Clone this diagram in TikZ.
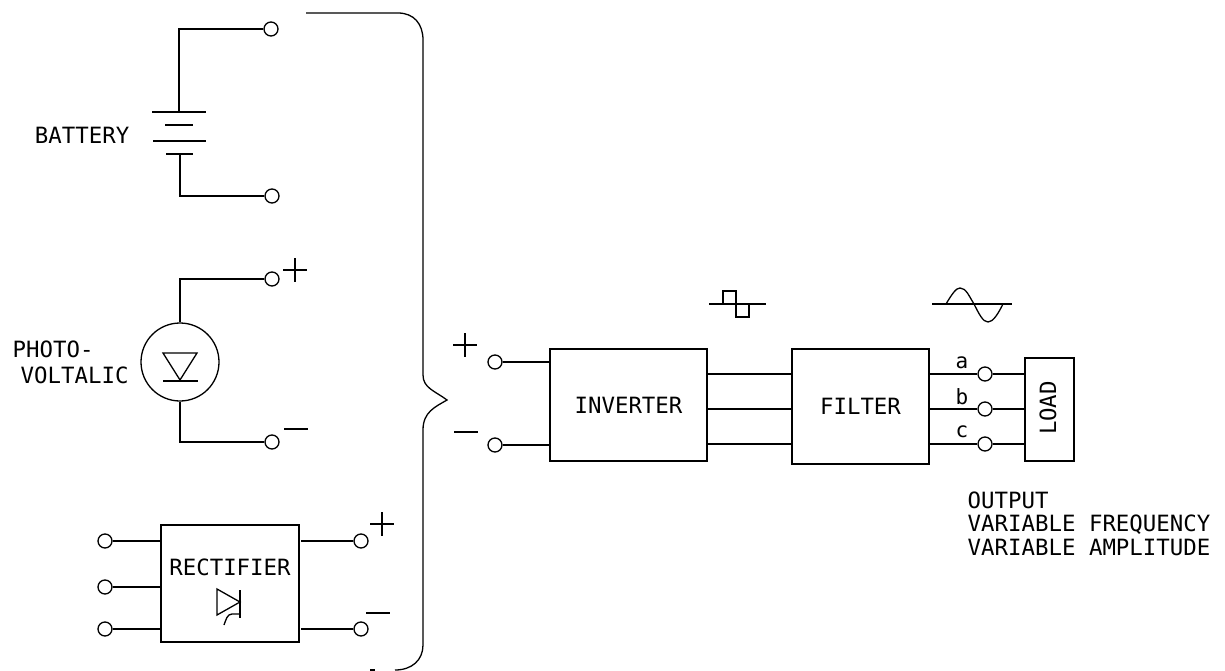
\documentclass[tikz,border=0pt]{standalone}
\usepackage{fontspec}
\setmainfont{DejaVu Sans Mono}
\usetikzlibrary{positioning}
\tikzset{
    wire/.style={line width=1.3pt},
    blockbox/.style={draw, line width=1.4pt, inner sep=0pt, font=\fontsize{22.4}{23.5}\selectfont},
    terminal/.style={circle, draw, line width=1.3pt, fill=white, minimum size=14pt, inner sep=0pt},
    caption/.style={inner sep=0pt, font=\fontsize{22.4}{23.5}\selectfont},
    letter/.style={inner sep=0pt, font=\fontsize{21}{23}\selectfont}
}

\begin{document}
\begin{tikzpicture}[x=1pt, y=-1pt, wire]
    \useasboundingbox (0,0) rectangle (1225,671);

    \node[terminal] (battop) at (271,29) {};
    \node[terminal] (batbot) [below of=battop, node distance=167pt, xshift=1pt] {};
    \coordinate (platetop) at (179,112);
    \coordinate (platebot) at (180,154);
    \node[caption, anchor=east] (battery) at (130,135) {BATTERY};
    \draw (152,112) -- (206,112)
          (165,125) -- (193,125)
          (153,141) -- (206,141)
          (166,154) -- (193,154);
    \path (platetop) edge[to path={|- (\tikztotarget)}] (battop)
          (platebot) edge[to path={|- (\tikztotarget)}] (batbot);

    \node[terminal] (pvtop) at (272,279) {};
    \node[terminal] (pvbot) [below of=pvtop, node distance=163pt] {};
    \node[circle, draw, minimum size=78pt, inner sep=0pt] (pv) at (180,362) {};
    \node[caption, anchor=west] (photo) at (12,349) {PHOTO-};
    \node[caption, anchor=west] (voltalic) at (20,375) {VOLTALIC};
    \draw (163,353) -- (197,353) -- (180,380) -- cycle;
    \draw (163,381) -- (198,381);
    \path (pv.north) edge[to path={|- (\tikztotarget)}] (pvtop)
          (pv.south) edge[to path={|- (\tikztotarget)}] (pvbot);

    \node[blockbox, minimum width=138pt, minimum height=117pt] (rectifier) at (230,583.5) {};
    \node[caption] (rectlabel) at (230,567) {RECTIFIER};
    \node[terminal] (rin1) at (105,541) {};
    \node[terminal] (rin2) [below of=rin1, node distance=46pt] {};
    \node[terminal] (rin3) [below of=rin2, node distance=42pt] {};
    \node[terminal] (rout1) at (361,541) {};
    \node[terminal] (rout2) [below of=rout1, node distance=88pt] {};
    \draw (217,589) -- (240,602) -- (217,615) -- cycle;
    \draw (240,590) -- (240,618);
    \draw (240,614) -- (232,614) .. controls (227,614) and (226,620) .. (224,625);
    \path (rin1) edge (rin1 -| rectifier.west)
          (rin2) edge (rin2 -| rectifier.west)
          (rin3) edge (rin3 -| rectifier.west)
          (rout1) edge (rout1 -| 301,0)
          (rout2) edge (rout2 -| 301,0);

    \draw (306,13) -- (398,13) .. controls (414,13) and (423,24) .. (423,40)
          -- (423,375) .. controls (423,388) and (435,391) .. (447,400)
          .. controls (435,407) and (423,412) .. (423,430)
          -- (423,645) .. controls (423,660) and (412,670) .. (395,670);
    \draw (370,670) -- (375,670);

    \node[blockbox, minimum width=157pt, minimum height=112pt] (inverter) at (628.5,405) {INVERTER};
    \node[blockbox, minimum width=137pt, minimum height=115pt] (filter) at (860.5,406.5) {FILTER};
    \node[blockbox, minimum width=49pt, minimum height=103pt] (load) at (1049.5,409.5) {};
    \node[caption, rotate=90] (loadlabel) at (1048,408) {LOAD};
    \node[terminal] (inplus) at (495,362) {};
    \node[terminal] (inminus) at (495,445) {};
    \node[terminal] (outa) at (985,374) {};
    \node[terminal] (outb) at (985,409) {};
    \node[terminal] (outc) at (985,444) {};
    \node[letter] (la) at (962,363) {a};
    \node[letter] (lb) at (962,397) {b};
    \node[letter] (lc) at (962,432) {c};
    \path (inplus) edge (inplus -| inverter.west)
          (inminus) edge (inminus -| inverter.west)
          (inverter.east |- outa) edge (filter.west |- outa)
          (inverter.east |- outb) edge (filter.west |- outb)
          (inverter.east |- outc) edge (filter.west |- outc)
          (filter.east |- outa) edge (outa)
          (filter.east |- outb) edge (outb)
          (filter.east |- outc) edge (outc)
          (outa) edge (outa -| load.west)
          (outb) edge (outb -| load.west)
          (outc) edge (outc -| load.west);

    \node[caption, anchor=north west, align=left] (output) at (967,491) {OUTPUT\\VARIABLE FREQUENCY\\VARIABLE AMPLITUDE};

    \foreach \x/\y in {295/270, 382/524, 465/345} {
        \draw (\x-12,\y) -- (\x+12,\y) (\x,\y-12) -- (\x,\y+12);
    }
    \foreach \x/\y in {296/429, 378/613, 466/432} {
        \draw (\x-12,\y) -- (\x+12,\y);
    }

    \draw (709,304) -- (766,304);
    \draw (723,304) -- (723,291) -- (736,291) -- (736,317) -- (749,317) -- (749,304);
    \draw (932,304) -- (1012,304);
    \draw (946,304) .. controls (952,294) and (956,288) .. (960,288)
          .. controls (966,288) and (969,296) .. (974,304)
          .. controls (979,314) and (983,322) .. (988,322)
          .. controls (993,322) and (998,314) .. (1003,304);
\end{tikzpicture}
\end{document}
